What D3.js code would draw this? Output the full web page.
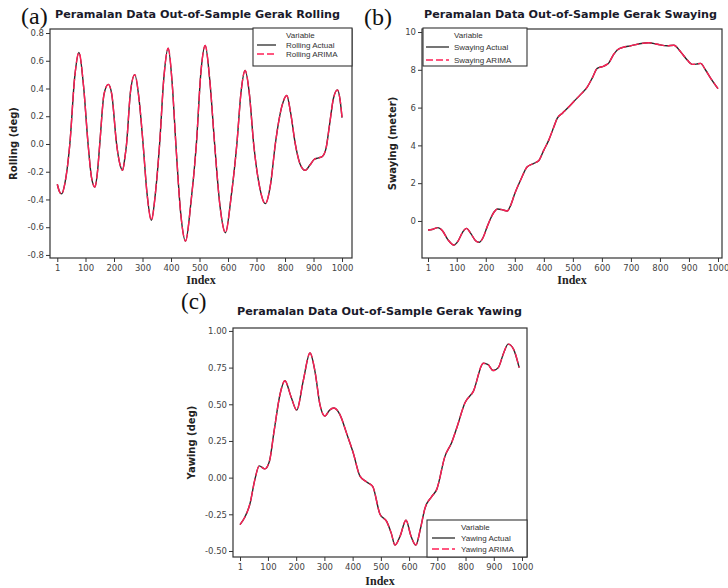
<!DOCTYPE html>
<html>
<head>
<meta charset="utf-8">
<script src="https://cdn.jsdelivr.net/npm/d3@7"></script>
<style>
  html, body { margin: 0; padding: 0; background: #fff; }
  svg { display: block; }
</style>
</head>
<body>
<div id="chart"></div>
<script>
// ---------------- DATA ----------------
const xTickValues = [1, 100, 200, 300, 400, 500, 600, 700, 800, 900, 1000];
const xTickLabels = ["1", "100", "200", "300", "400", "500", "600", "700", "800", "900", "1000"];

// (a) Rolling
const rollingIndex = [1, 8, 16, 28, 45, 62, 77, 93, 109, 121, 133, 142, 150, 165, 180, 192, 209, 220, 230, 238, 244, 258, 273, 288, 302, 316, 331, 346, 360, 375, 390, 404, 417, 434, 451, 470, 489, 505, 520, 536, 553, 572, 591, 611, 631, 646, 660, 675, 690, 710, 731, 750, 766, 790, 806, 820, 836, 852, 871, 888, 903, 918, 931, 944, 957, 970, 984, 993, 1000];
const rollingActual = [-0.29, -0.34, -0.36, -0.28, 0.0, 0.48, 0.66, 0.42, 0.0, -0.24, -0.31, -0.2, 0.0, 0.36, 0.43, 0.36, 0.0, -0.14, -0.19, -0.1, 0.0, 0.38, 0.50, 0.32, 0.0, -0.36, -0.55, -0.34, 0.0, 0.48, 0.69, 0.44, 0.0, -0.5, -0.70, -0.42, 0.0, 0.52, 0.71, 0.46, 0.0, -0.45, -0.64, -0.38, 0.0, 0.38, 0.53, 0.36, 0.0, -0.3, -0.43, -0.28, 0.0, 0.28, 0.35, 0.22, 0.0, -0.14, -0.19, -0.15, -0.11, -0.10, -0.09, -0.03, 0.15, 0.33, 0.39, 0.32, 0.19];
const rollingArima = [-0.29, -0.34, -0.36, -0.28, 0.0, 0.48, 0.66, 0.42, 0.0, -0.24, -0.31, -0.2, 0.0, 0.36, 0.43, 0.36, 0.0, -0.14, -0.19, -0.1, 0.0, 0.38, 0.50, 0.32, 0.0, -0.36, -0.55, -0.34, 0.0, 0.48, 0.69, 0.44, 0.0, -0.5, -0.70, -0.42, 0.0, 0.52, 0.71, 0.46, 0.0, -0.45, -0.64, -0.38, 0.0, 0.38, 0.53, 0.36, 0.0, -0.3, -0.43, -0.28, 0.0, 0.28, 0.35, 0.22, 0.0, -0.14, -0.19, -0.15, -0.11, -0.10, -0.09, -0.03, 0.15, 0.33, 0.39, 0.32, 0.19];
const rollingYTicks = [-0.8, -0.6, -0.4, -0.2, 0.0, 0.2, 0.4, 0.6, 0.8];
const rollingYLabels = ["-0.8", "-0.6", "-0.4", "-0.2", "0.0", "0.2", "0.4", "0.6", "0.8"];

// (b) Swaying
const swayingIndex = [1, 15, 35, 50, 70, 90, 105, 120, 133, 150, 165, 177, 190, 205, 217, 230, 240, 255, 274, 285, 300, 320, 343, 366, 383, 400, 417, 435, 446, 465, 481, 505, 527, 550, 568, 584, 607, 624, 640, 653, 675, 699, 730, 762, 791, 825, 848, 871, 895, 911, 925, 940, 957, 975, 1000];
const swayingActual = [-0.48, -0.45, -0.35, -0.5, -1.0, -1.27, -1.05, -0.6, -0.39, -0.7, -1.05, -1.13, -0.9, -0.3, 0.14, 0.5, 0.63, 0.6, 0.53, 0.8, 1.45, 2.17, 2.87, 3.05, 3.2, 3.75, 4.28, 5.0, 5.43, 5.72, 5.96, 6.35, 6.7, 7.1, 7.6, 8.08, 8.2, 8.37, 8.8, 9.05, 9.2, 9.27, 9.38, 9.43, 9.35, 9.27, 9.3, 8.96, 8.5, 8.29, 8.3, 8.34, 7.99, 7.55, 7.0];
const swayingArima = [-0.48, -0.45, -0.35, -0.5, -1.0, -1.27, -1.05, -0.6, -0.39, -0.7, -1.05, -1.13, -0.9, -0.3, 0.14, 0.5, 0.63, 0.6, 0.53, 0.8, 1.45, 2.17, 2.87, 3.05, 3.2, 3.75, 4.28, 5.0, 5.43, 5.72, 5.96, 6.35, 6.7, 7.1, 7.6, 8.08, 8.2, 8.37, 8.8, 9.05, 9.2, 9.27, 9.38, 9.43, 9.35, 9.27, 9.3, 8.96, 8.5, 8.29, 8.3, 8.34, 7.99, 7.55, 7.0];
const swayingYTicks = [0, 2, 4, 6, 8, 10];
const swayingYLabels = ["0", "2", "4", "6", "8", "10"];

// (c) Yawing
const yawingIndex = [1, 18, 36, 54, 69, 89, 105, 122, 143, 160, 182, 202, 225, 249, 267, 284, 302, 318, 334, 355, 379, 402, 426, 450, 471, 497, 521, 537, 550, 568, 589, 607, 624, 640, 656, 680, 698, 727, 751, 769, 798, 828, 863, 880, 898, 916, 935, 951, 969, 990];
const yawingActual = [-0.32, -0.27, -0.18, -0.01, 0.08, 0.06, 0.11, 0.32, 0.57, 0.66, 0.55, 0.46, 0.66, 0.85, 0.72, 0.5, 0.42, 0.46, 0.475, 0.43, 0.30, 0.17, 0.01, -0.03, -0.06, -0.25, -0.30, -0.38, -0.46, -0.40, -0.29, -0.40, -0.46, -0.35, -0.21, -0.13, -0.08, 0.145, 0.24, 0.34, 0.51, 0.59, 0.78, 0.77, 0.73, 0.75, 0.85, 0.91, 0.88, 0.75];
const yawingArima = [-0.32, -0.27, -0.18, -0.01, 0.08, 0.06, 0.11, 0.32, 0.57, 0.66, 0.55, 0.46, 0.66, 0.85, 0.72, 0.5, 0.42, 0.46, 0.475, 0.43, 0.30, 0.17, 0.01, -0.03, -0.06, -0.25, -0.30, -0.38, -0.46, -0.40, -0.29, -0.40, -0.46, -0.35, -0.21, -0.13, -0.08, 0.145, 0.24, 0.34, 0.51, 0.59, 0.78, 0.77, 0.73, 0.75, 0.85, 0.91, 0.88, 0.75];
const yawingYTicks = [-0.50, -0.25, 0.00, 0.25, 0.50, 0.75, 1.00];
const yawingYLabels = ["-0.50", "-0.25", "0.00", "0.25", "0.50", "0.75", "1.00"];

// ---------------- LAYOUT ----------------
const W = 728, H = 588;
const svg = d3.select("#chart").append("svg").attr("width", W).attr("height", H);

const BLACK = "#2a2a2a";
const RED = "#ff1f55";
const TICK_FONT = "'DejaVu Sans', sans-serif";

const panels = [
  {
    tag: "(a)", tagX: 21, tagY: 24, tagSize: 24,
    title: "Peramalan Data Out-of-Sample Gerak Rolling", titleX: 197.5, titleY: 18, titleW: 285,
    ylabel: "Rolling (deg)", ylabelX: 13,
    left: 50, right: 352, top: 29, bottom: 258,
    xDomain: [-24.6, 1035], yDomain: [-0.822, 0.829],
    idx: rollingIndex, actual: rollingActual, arima: rollingArima,
    yTicks: rollingYTicks, yLabels: rollingYLabels,
    legendNames: ["Rolling Actual", "Rolling ARIMA"],
    legend: { x: 253, y: 28, w: 99, h: 38, lineX: 257, lineW: 19, textX: 286, rows: [35, 45, 54] },
    indexY: 284
  },
  {
    tag: "(b)", tagX: 364, tagY: 25, tagSize: 24,
    title: "Peramalan Data Out-of-Sample Gerak Swaying", titleX: 570.5, titleY: 18, titleW: 293,
    ylabel: "Swaying (meter)", ylabelX: 392,
    left: 422, right: 722, top: 29, bottom: 258,
    xDomain: [-19.7, 1013.8], yDomain: [-1.96, 10.16],
    idx: swayingIndex, actual: swayingActual, arima: swayingArima,
    yTicks: swayingYTicks, yLabels: swayingYLabels,
    legendNames: ["Swaying Actual", "Swaying ARIMA"],
    legend: { x: 423, y: 28, w: 104, h: 38, lineX: 426, lineW: 23, textX: 454, rows: [35, 47, 60] },
    indexY: 284
  },
  {
    tag: "(c)", tagX: 181, tagY: 309, tagSize: 23,
    title: "Peramalan Data Out-of-Sample Gerak Yawing", titleX: 379.5, titleY: 315, titleW: 285,
    ylabel: "Yawing (deg)", ylabelX: 191,
    left: 233, right: 527, top: 328, bottom: 557,
    xDomain: [-23.8, 1017.7], yDomain: [-0.541, 1.02],
    idx: yawingIndex, actual: yawingActual, arima: yawingArima,
    yTicks: yawingYTicks, yLabels: yawingYLabels,
    legendNames: ["Yawing Actual", "Yawing ARIMA"],
    legend: { x: 427, y: 520, w: 100, h: 37, lineX: 432, lineW: 23, textX: 461, rows: [527, 538, 549] },
    indexY: 585
  }
];

panels.forEach(p => {
  const x = d3.scaleLinear().domain(p.xDomain).range([p.left, p.right]);
  const y = d3.scaleLinear().domain(p.yDomain).range([p.bottom, p.top]);
  const g = svg.append("g");

  // panel tag
  g.append("text").attr("x", p.tagX).attr("y", p.tagY)
    .attr("font-family", "'Liberation Serif', 'Times New Roman', serif")
    .attr("font-size", p.tagSize).attr("fill", "#111").text(p.tag);

  // title
  g.append("text").attr("x", p.titleX).attr("y", p.titleY)
    .attr("text-anchor", "middle")
    .attr("font-family", "'DejaVu Sans', sans-serif").attr("font-weight", "bold")
    .attr("font-size", 10).attr("fill", "#1a1a2a")
    .attr("textLength", p.titleW).attr("lengthAdjust", "spacingAndGlyphs")
    .text(p.title);

  // axes
  const xAxis = d3.axisBottom(x).tickValues(xTickValues)
    .tickFormat((d, i) => xTickLabels[i]).tickSize(4).tickPadding(3);
  const yAxis = d3.axisLeft(y).tickValues(p.yTicks)
    .tickFormat((d, i) => p.yLabels[i]).tickSize(4).tickPadding(2);

  const gx = g.append("g").attr("transform", `translate(0,${p.bottom})`).call(xAxis);
  const gy = g.append("g").attr("transform", `translate(${p.left},0)`).call(yAxis);
  [gx, gy].forEach(a => {
    a.select(".domain").remove();
    a.selectAll(".tick line").attr("stroke", "#333").attr("stroke-width", 1);
    a.selectAll(".tick text").attr("font-family", TICK_FONT).attr("font-size", 8.5).attr("fill", "#444");
  });

  // plot lines
  const line = d3.line().x(d => x(d[0])).y(d => y(d[1])).curve(d3.curveMonotoneX);
  const actualPts = p.idx.map((v, i) => [v, p.actual[i]]);
  const arimaPts = p.idx.map((v, i) => [v, p.arima[i]]);
  g.append("path").attr("d", line(actualPts)).attr("fill", "none")
    .attr("stroke", BLACK).attr("stroke-width", 1.4);
  g.append("path").attr("d", line(arimaPts)).attr("fill", "none")
    .attr("stroke", RED).attr("stroke-width", 1.4).attr("stroke-dasharray", "10,3");

  // frame
  g.append("rect").attr("x", p.left).attr("y", p.top)
    .attr("width", p.right - p.left).attr("height", p.bottom - p.top)
    .attr("fill", "none").attr("stroke", "#333").attr("stroke-width", 1.2);

  // axis labels
  g.append("text").attr("x", (p.left + p.right) / 2).attr("y", p.indexY)
    .attr("text-anchor", "middle")
    .attr("font-family", "'Liberation Serif', serif").attr("font-weight", "bold")
    .attr("font-size", 12).attr("fill", "#222").text("Index");
  g.append("text")
    .attr("transform", `translate(${p.ylabelX},${(p.top + p.bottom) / 2}) rotate(-90)`)
    .attr("text-anchor", "middle").attr("dy", "0.35em")
    .attr("font-family", "'DejaVu Sans', sans-serif").attr("font-weight", "bold")
    .attr("font-size", 10).attr("fill", "#222").text(p.ylabel);

  // legend
  const L = p.legend;
  const lg = g.append("g");
  lg.append("rect").attr("x", L.x).attr("y", L.y).attr("width", L.w).attr("height", L.h)
    .attr("fill", "#fff").attr("stroke", "#333").attr("stroke-width", 1.1);
  lg.append("text").attr("x", L.textX).attr("y", L.rows[0]).attr("dy", "0.35em")
    .attr("font-family", "'Liberation Sans', sans-serif").attr("font-size", 8)
    .attr("fill", "#333").text("Variable");
  const styles = [{ c: BLACK, dash: null }, { c: RED, dash: "7,3" }];
  p.legendNames.forEach((name, i) => {
    const yy = L.rows[i + 1];
    lg.append("line").attr("x1", L.lineX).attr("x2", L.lineX + L.lineW)
      .attr("y1", yy).attr("y2", yy)
      .attr("stroke", styles[i].c).attr("stroke-width", 1.3)
      .attr("stroke-dasharray", styles[i].dash);
    lg.append("text").attr("x", L.textX).attr("y", yy).attr("dy", "0.35em")
      .attr("font-family", "'Liberation Sans', sans-serif").attr("font-size", 8)
      .attr("fill", "#333").text(name);
  });
});
</script>
</body>
</html>
